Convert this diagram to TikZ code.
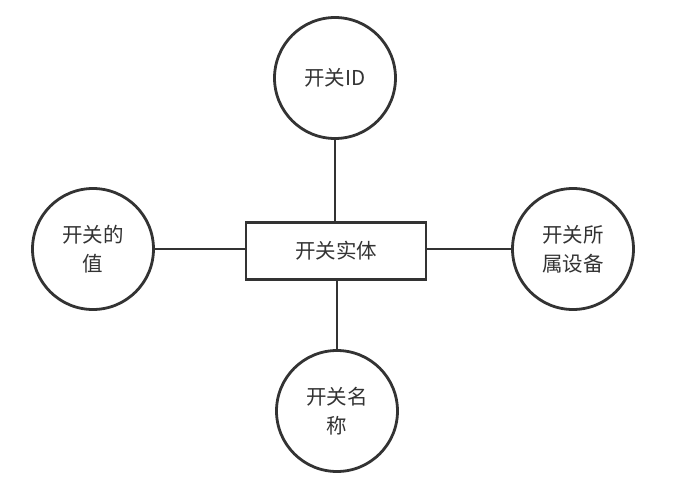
\documentclass[tikz,border=0pt]{standalone}
\usepackage{fontspec}
\setmainfont{Noto Sans CJK SC}
\definecolor{ink}{HTML}{333333}
\begin{document}
\begin{tikzpicture}[x=1pt,y=-1pt,
  attr/.style={circle,draw=ink,line width=2.8pt,minimum size=121pt,inner sep=0pt,align=center,text=ink,font=\fontsize{20.5}{29}\selectfont},
  ent/.style={rectangle,draw=ink,line width=2.8pt,minimum width=180pt,minimum height=57pt,inner sep=0pt,text=ink,font=\fontsize{20.5}{29}\selectfont},
  link/.style={draw=ink,line width=2.8pt}]
\useasboundingbox[fill=white] (0,0) rectangle (696,496);
\node[ent] (e) at (336,251) {开关实体};
\node[attr] (top) at (335,78) {开关ID};
\node[attr] (left) at (93,249) {开关的\\值};
\node[attr] (right) at (573,249) {开关所\\属设备};
\node[attr] (bot) at (337,411) {开关名\\称};
\draw[link] (top.south) -- (e.north -| top.south);
\draw[link] (bot.north) -- (e.south -| bot.north);
\draw[link] (left.east) -- (e.west |- left.east);
\draw[link] (right.west) -- (e.east |- right.west);
\end{tikzpicture}
\end{document}
